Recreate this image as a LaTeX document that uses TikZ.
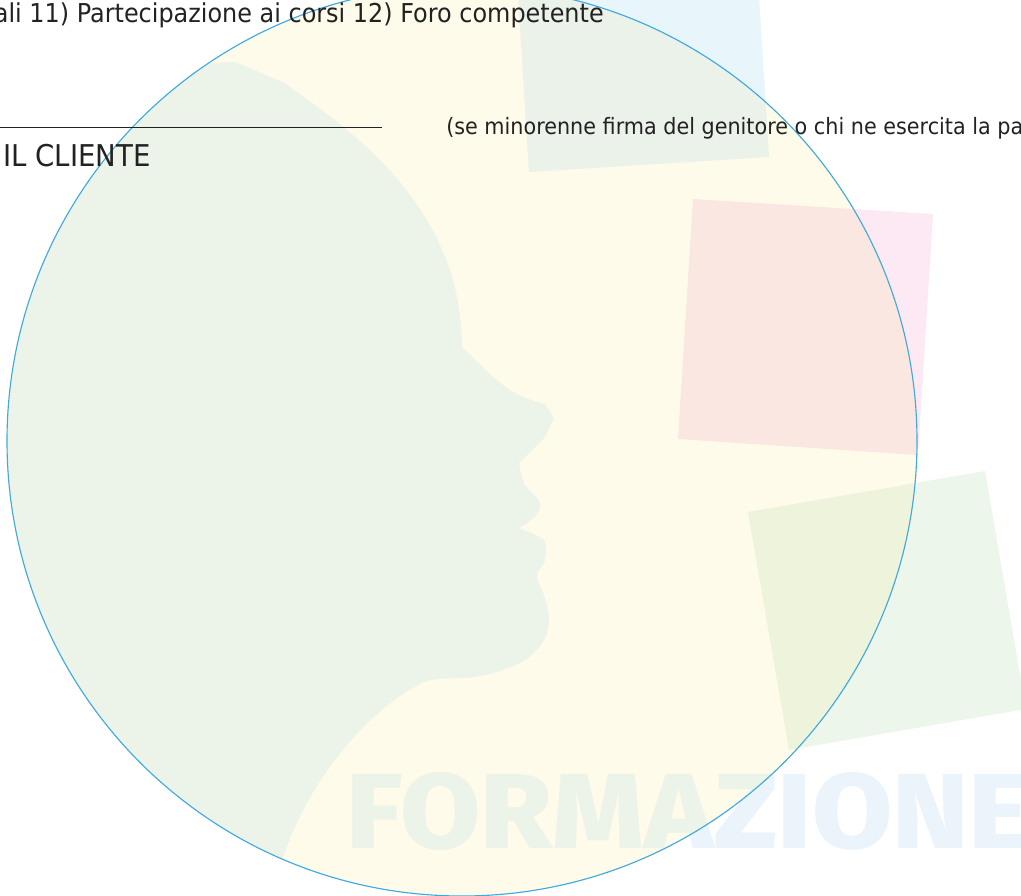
\documentclass[tikz,border=0pt]{standalone}
\usepackage{fontspec}
\setmainfont{DejaVu Sans}[FakeStretch=0.92]
\newfontfamily\bigfont{Fira Sans}[BoldFont={Fira Sans ExtraBold},BoldFeatures={FakeStretch=1.09}]
\definecolor{ink}{HTML}{222222}
\definecolor{ringblue}{HTML}{3FA9E0}
\definecolor{discyellow}{HTML}{FFFBEA}
\definecolor{headgreen}{HTML}{ECF4E9}
\definecolor{topout}{HTML}{E8F6FC}
\definecolor{topin}{HTML}{EAF2E9}
\definecolor{pinkout}{HTML}{FCE9F3}
\definecolor{pinkin}{HTML}{FBE7E1}
\definecolor{greenout}{HTML}{EDF6EA}
\definecolor{greenin}{HTML}{EEF3DC}
\definecolor{wordout}{HTML}{EBF4FB}
\tikzset{
  bodytext/.style={inner sep=0pt,text=ink},
  bigword/.style={inner sep=0pt,anchor=base west,font=\bigfont\bfseries\fontsize{80}{80}\selectfont},
}
\newcommand{\topsq}{(518,-5) -- (529,172) -- (769,157) -- (759,-5) -- cycle}
\newcommand{\pinksq}{(693,199) -- (933,214) -- (918,455) -- (678,439) -- cycle}
\newcommand{\greensq}{(748,512) -- (985,471) -- (1026,709) -- (789,750) -- cycle}
\begin{document}
\begin{tikzpicture}[x=0.75pt,y=-0.75pt]
\useasboundingbox (0,0) rectangle (1021,896);
\begin{scope}
\clip (0,0) rectangle (1021,896);
% outside the disc
\fill[topout] \topsq;
\fill[pinkout] \pinksq;
\fill[greenout] \greensq;
\node[bigword,text=wordout] (wordA) at (346,848) {FORMAZIONE};
% disc
\fill[discyellow] (462,441) circle[radius=455];
\begin{scope}
\clip (462,441) circle[radius=455];
\fill[topin] \topsq;
\fill[pinkin] \pinksq;
\fill[greenin] \greensq;
\node[bigword,text=headgreen] (wordB) at (346,848) {FORMAZIONE};
\fill[headgreen] (0,63) -- (213,63) -- (235,62) -- (285,83)
  .. controls (330,118) and (462,195) .. (462,347)
  .. controls (480,365) and (495,380) .. (510,390)
  .. controls (522,398) and (534,401) .. (545,404)
  -- (554,418) -- (544,438) -- (519,463)
  .. controls (521,475) and (523,482) .. (525,486)
  .. controls (530,492) and (540,497) .. (540,506)
  .. controls (540,515) and (528,523) .. (519,528)
  .. controls (528,532) and (540,536) .. (544,540)
  .. controls (547,545) and (546,558) .. (544,563)
  .. controls (541,569) and (537,570) .. (537,577)
  .. controls (537,582) and (549,600) .. (549,620)
  .. controls (549,640) and (535,655) .. (520,663)
  .. controls (500,673) and (480,677) .. (463,678)
  .. controls (452,678.5) and (442,678) .. (431,680)
  .. controls (400,688) and (320,750) .. (283,857)
  -- (270,900) -- (0,900) -- cycle;
\end{scope}
\draw[ringblue,line width=0.85pt] (462,441) circle[radius=455];
% rule and texts
\coordinate (ruleL) at (0,127);
\coordinate (ruleR) at (382,127);
\draw[ink,line width=0.6pt] (ruleL) -- (ruleR);
\node[bodytext,anchor=base east,font=\fontsize{19.5}{19.5}\selectfont] (clauses) at (604,22) {ali 11) Partecipazione ai corsi 12) Foro competente};
\node[bodytext,anchor=base west,font=\fontsize{16.9}{16.9}\selectfont] (minor) at (446,134) {(se minorenne firma del genitore o chi ne esercita la pa};
\node[bodytext,anchor=base west,font=\fontsize{22.5}{22.5}\selectfont] (client) at (3,166) {IL CLIENTE};
\end{scope}
\end{tikzpicture}
\end{document}
